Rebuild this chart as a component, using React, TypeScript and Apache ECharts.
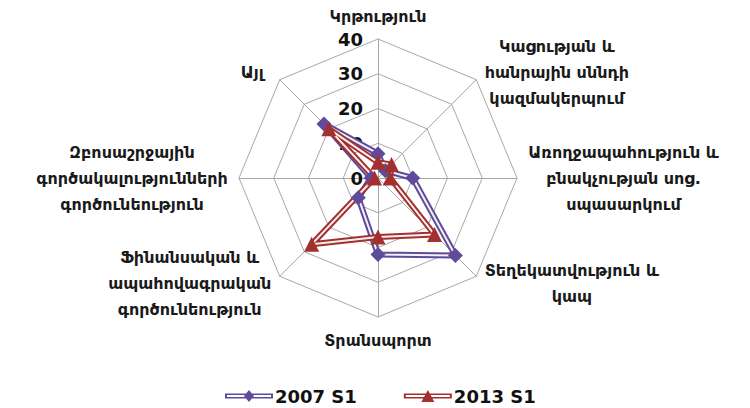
import React, { useEffect, useRef } from 'react';
import * as echarts from 'echarts';

// Categories in clockwise order starting from the top
const categories = [
  'Կրթություն',
  'Կացության և\nհանրային սննդի\nկազմակերպում',
  'Առողջապահություն և\nբնակչության սոց.\nսպասարկում',
  'Տեղեկատվություն և\nկապ',
  'Տրանսպորտ',
  'Ֆինանսական և\nապահովագրական\nգործունեություն',
  'Զբոսաշրջային\nգործակալությունների\nգործունեություն',
  'Այլ',
];
const seriesNames = ['2007 S1', '2013 S1'];
const values2007 = [7, 3, 10, 31.5, 22, 8, 2, 22];
const values2013 = [4.5, 5.5, 3.5, 23, 17, 27, 1, 20];
const axisMin = 0;
const axisMax = 40;
const axisSplits = 4;

const COLORS = ['#5F4B99', '#A2302F'];
const NAME_FONT = '"DejaVu Sans", sans-serif';
const NAME_SIZE = 16;
const NAME_WEIGHT = 'bold';
// extra padding (layout only) for a few names, clockwise order
const namePadding: number[][] = [
  [0, 0, 0, 0],
  [0, 0, 0, 0],
  [0, 0, 0, 0],
  [0, 0, 0, 0],
  [0, 0, 0, 0],
  [0, 0, 0, 0],
  [0, 0, 0, 0],
  [0, 8, 0, 0],
];

// ECharts places indicators counter-clockwise; reorder clockwise data.
const ccwOrder = categories.map((_, i) => (i === 0 ? 0 : categories.length - i));
const ccw = <T,>(arr: T[]) => ccwOrder.map((i) => arr[i]);

function measure(text: string): number {
  const c = document.createElement('canvas').getContext('2d');
  if (!c) return text.length * 10;
  c.font = `${NAME_WEIGHT} ${NAME_SIZE}px ${NAME_FONT}`;
  return c.measureText(text).width;
}

const diamondIcon =
  'path://M0 4.5H48V9.5H0Z M2 6V8H46V6Z M24 1L29 7L24 13L19 7Z';
const triangleIcon =
  'path://M0 4.5H48V9.5H0Z M2 6V8H46V6Z M24 1L30.5 13L17.5 13Z';

export default function App() {
  const ref = useRef<HTMLDivElement>(null);
  useEffect(() => {
    document.body.style.margin = '0';
    if (!ref.current) return;
    const chart = echarts.init(ref.current, undefined, { renderer: 'svg' });

    const names = ccw(categories);
    const pads = ccw(namePadding);
    const rich: Record<string, any> = {};
    names.forEach((n, i) => {
      const w = Math.ceil(Math.max(...n.split('\n').map(measure))) + 2;
      rich['n' + i] = {
        width: w,
        align: 'center',
        fontFamily: NAME_FONT,
        fontSize: NAME_SIZE,
        fontWeight: NAME_WEIGHT,
        lineHeight: 26,
        color: '#1a1a1a',
        padding: pads[i],
      };
    });

    const labelStyle = {
      show: true,
      fontFamily: '"DejaVu Sans", sans-serif',
      fontWeight: 'bold',
      fontSize: 18,
      color: '#111',
      margin: 15,
    };

    const indicator = names.map((n, i) => {
      const o: any = { name: n, min: axisMin, max: axisMax };
      if (i === 0) o.axisLabel = labelStyle;
      return o;
    });

    const v07 = ccw(values2007);
    const v13 = ccw(values2013);

    chart.setOption({
      animation: false,
      legend: {
        left: 220,
        top: 381,
        itemWidth: 48,
        itemHeight: 12,
        itemGap: 47,
        textStyle: {
          fontFamily: '"DejaVu Sans", sans-serif',
          fontWeight: 'bold',
          fontSize: 18,
          lineHeight: 20,
          color: '#111',
          padding: [0, 0, 0, -3],
        },
        data: [
          { name: seriesNames[0], icon: diamondIcon, itemStyle: { color: COLORS[0], borderWidth: 0 } },
          { name: seriesNames[1], icon: triangleIcon, itemStyle: { color: COLORS[1], borderWidth: 0 } },
        ],
        selectedMode: false,
      },
      radar: {
        center: [378, 178],
        radius: 139,
        startAngle: 90,
        splitNumber: axisSplits,
        shape: 'polygon',
        axisNameGap: 10,
        axisName: {
          formatter: (value: string) => {
            const idx = names.indexOf(value);
            return value
              .split('\n')
              .map((l) => `{n${idx}|${l}}`)
              .join('\n');
          },
          rich,
        },
        splitArea: { show: false },
        splitLine: { lineStyle: { color: '#A8A8A8', width: 1 } },
        axisLine: { lineStyle: { color: '#A8A8A8', width: 1 } },
        axisTick: { show: false },
        axisLabel: { ...labelStyle, show: false },
        indicator,
      },
      series: [
        {
          type: 'radar',
          silent: true,
          emphasis: { disabled: true },
          data: [
            {
              name: seriesNames[0],
              value: v07,
              symbol: 'none',
              lineStyle: { color: COLORS[0], width: 6 },
              itemStyle: { color: COLORS[0] },
            },
            {
              name: seriesNames[0],
              value: v07,
              symbol: 'diamond',
              symbolSize: 15,
              lineStyle: { color: '#F4F0FA', width: 2 },
              itemStyle: { color: COLORS[0] },
            },
            {
              name: seriesNames[1],
              value: v13,
              symbol: 'none',
              lineStyle: { color: COLORS[1], width: 6 },
              itemStyle: { color: COLORS[1] },
            },
            {
              name: seriesNames[1],
              value: v13,
              symbol: 'triangle',
              symbolSize: 15,
              lineStyle: { color: '#FAEDED', width: 2 },
              itemStyle: { color: COLORS[1] },
            },
          ],
        },
      ],
    });
    return () => chart.dispose();
  }, []);
  return <div ref={ref} style={{ width: 750, height: 408 }} />;
}
